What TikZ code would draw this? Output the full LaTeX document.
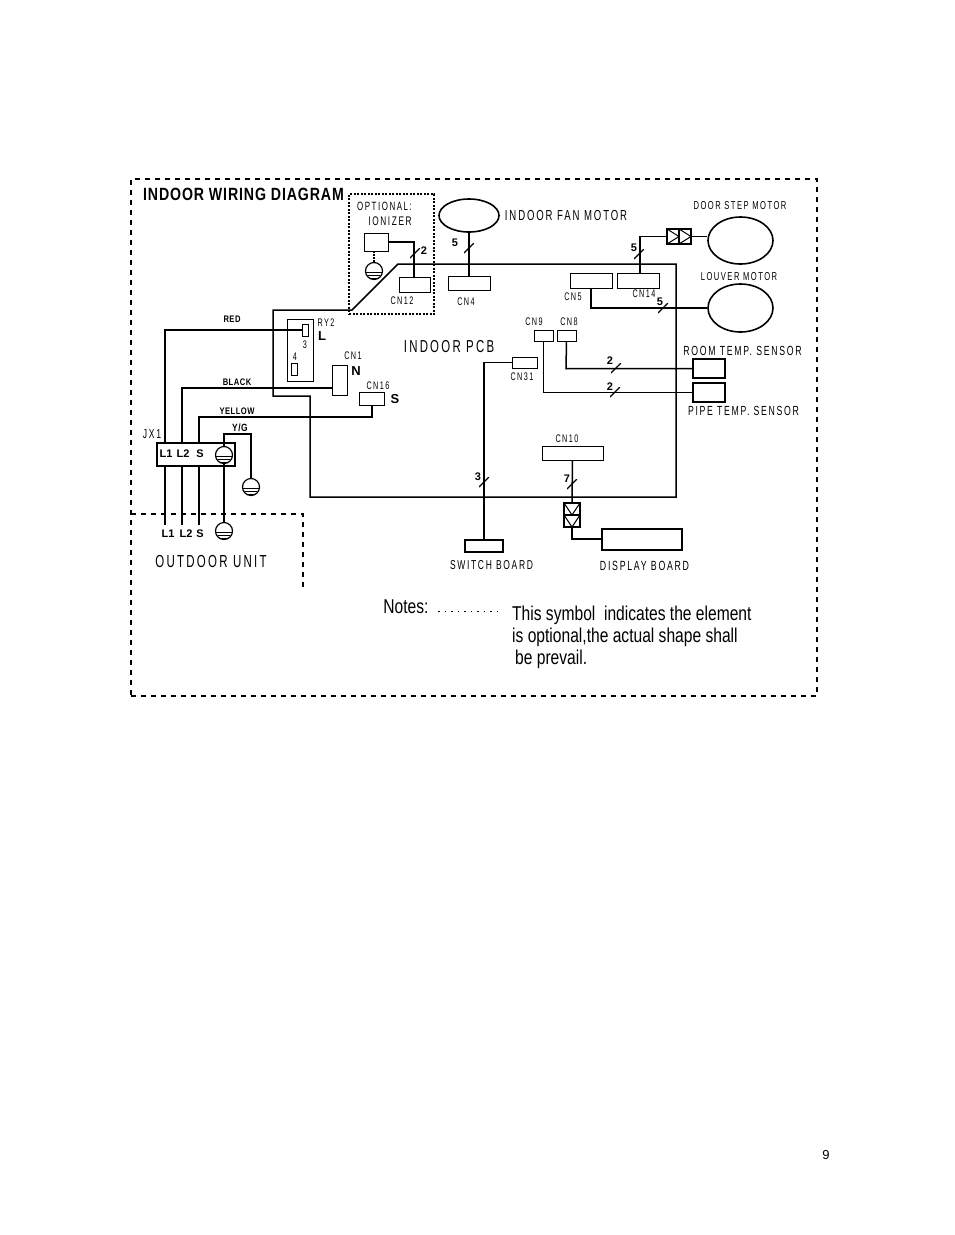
\documentclass[tikz,border=0pt]{standalone}
\usepackage{fontspec}
\usepackage{tikz}
\usetikzlibrary{calc,shapes.geometric}
\setmainfont{Liberation Sans}
\newfontfamily\drawfont[FakeStretch=0.66,LetterSpace=13]{Liberation Sans}
\newfontfamily\notefont[FakeStretch=0.78]{Liberation Sans}
\newfontfamily\boldfont[FakeStretch=0.8,LetterSpace=5]{Liberation Sans Bold}

\begin{document}
\begin{tikzpicture}[
        x=1pt, y=-1pt,
        wire/.style={line width=1.5pt},
        thinwire/.style={line width=1.2pt},
        frameline/.style={draw, line width=2pt, dash pattern=on 5pt off 5pt},
        optline/.style={draw, line width=1.6pt, dash pattern=on 2pt off 1.5pt},
        dotline/.style={line width=1pt, dash pattern=on 1.5pt off 5pt},
        conn/.style={rectangle, draw, line width=1pt, inner sep=0pt},
        heavy/.style={rectangle, draw, line width=2.2pt, inner sep=0pt},
        motor/.style={ellipse, draw, line width=1.6pt, inner sep=0pt},
        gnd/.style={circle, draw, line width=1.2pt, minimum size=17pt, inner sep=0pt,
          path picture={
            \draw[line width=1pt] ($(path picture bounding box.center)+(-8,1)$) -- +(16,0);
            \draw[line width=1pt] ($(path picture bounding box.center)+(-6,4)$) -- +(12,0);
            \draw[line width=1pt] ($(path picture bounding box.center)+(-4,7)$) -- +(8,0);
          }},
        tick/.style={minimum size=10pt, inner sep=0pt,
          path picture={
            \draw[line width=1.2pt] (path picture bounding box.south west) -- (path picture bounding box.north east);
          }},
        triright/.style={conn, line width=1.5pt, minimum width=12pt, minimum height=15pt,
          path picture={
            \draw[line width=1pt] (path picture bounding box.north west) -- (path picture bounding box.east)
              -- (path picture bounding box.south west);
          }},
        tridown/.style={conn, line width=1.5pt, minimum width=16pt, minimum height=12pt,
          path picture={
            \draw[line width=1pt] (path picture bounding box.north west) -- (path picture bounding box.south)
              -- (path picture bounding box.north east);
          }},
        lab/.style={inner sep=0pt, font=\drawfont\fontsize{14.5}{16}\selectfont},
        cnlab/.style={inner sep=0pt, font=\drawfont\fontsize{11}{12}\selectfont},
        small/.style={inner sep=0pt, font=\fontsize{11}{12}\selectfont\bfseries},
        wirelab/.style={inner sep=0pt, font=\boldfont\fontsize{9.5}{11}\selectfont},
        note/.style={inner sep=0pt, anchor=west, font=\notefont\fontsize{20}{22}\selectfont}
      ]
      \useasboundingbox (0,0) rectangle (954,1235);

      % frames
      \node[frameline, minimum width=686pt, minimum height=517pt, inner sep=0pt] (frame) at (474,437.5) {};
      \node[optline, minimum width=85pt, minimum height=120pt, inner sep=0pt] (optbox) at (391.5,254) {};
      \coordinate (outa) at (131,514);
      \coordinate (outb) at (303,514);
      \coordinate (outc) at (303,588);
      \draw[line width=2pt, dash pattern=on 5pt off 5pt] (outa) -- (outb) -- (outc);

      % connectors
      \node[conn, minimum width=24pt, minimum height=18pt] (ionizer) at (376,242) {};
      \node[conn, minimum width=31pt, minimum height=15pt] (cntwelve) at (414.5,284.5) {};
      \node[conn, minimum width=42pt, minimum height=14pt] (cnfour) at (469,283) {};
      \node[conn, minimum width=42pt, minimum height=15pt] (cnfive) at (591,280.5) {};
      \node[conn, minimum width=42pt, minimum height=15pt] (cnfourteen) at (638,280.5) {};
      \node[conn, minimum width=19pt, minimum height=11pt] (cnnine) at (543.5,335.5) {};
      \node[conn, minimum width=19pt, minimum height=11pt] (cneight) at (566.5,335.5) {};
      \node[conn, minimum width=25pt, minimum height=11pt] (cnthirtyone) at (524.5,362.5) {};
      \node[conn, minimum width=61pt, minimum height=14pt] (cnten) at (572.5,453) {};
      \node[conn, minimum width=26pt, minimum height=62pt] (relay) at (300,350) {};
      \node[conn, minimum width=6pt, minimum height=12pt] (pinthree) at (305,330) {};
      \node[conn, minimum width=6pt, minimum height=12pt] (pinfour) at (294,369) {};
      \node[conn, minimum width=15pt, minimum height=30pt] (cnone) at (339.5,380) {};
      \node[conn, minimum width=25pt, minimum height=13pt] (cnsixteen) at (371.5,398.5) {};
      \node[heavy, minimum width=78pt, minimum height=23pt] (jx) at (196,454.5) {};

      % motors and boards
      \node[motor, minimum width=60pt, minimum height=33pt] (fanmotor) at (469,215.5) {};
      \node[motor, minimum width=65pt, minimum height=47pt] (doormotor) at (740.5,240.5) {};
      \node[motor, minimum width=65pt, minimum height=48pt] (louvermotor) at (740.5,308) {};
      \node[heavy, minimum width=32pt, minimum height=19pt] (roomsensor) at (709,368.5) {};
      \node[heavy, minimum width=32pt, minimum height=19pt] (pipesensor) at (709,392.5) {};
      \node[heavy, minimum width=38pt, minimum height=12pt] (switchboard) at (484,546) {};
      \node[heavy, minimum width=80pt, minimum height=21pt] (displayboard) at (642,539.5) {};
      \node[triright] (plugdoora) at (673,236.5) {};
      \node[triright] (plugdoorb) at (685,236.5) {};
      \node[tridown] (plugdispa) at (572,509) {};
      \node[tridown] (plugdispb) at (572,521) {};

      % earth symbols
      \node[gnd] (earthion) at (374,271) {};
      \node[gnd] (earthjx) at (224,455) {};
      \node[gnd] (earthyg) at (251,487) {};
      \node[gnd] (earthout) at (224,531) {};

      % pcb outline
      \coordinate (pcba) at (273,310);
      \coordinate (pcbb) at (352,310);
      \coordinate (pcbc) at (398,264);
      \coordinate (pcbd) at (676,264);
      \coordinate (pcbe) at (676,497);
      \coordinate (pcbf) at (310,497);
      \coordinate (pcbg) at (310,396);
      \coordinate (pcbh) at (273,396);
      \draw[wire] (pcba) -- (pcbb) -- (pcbc) -- (pcbd) -- (pcbe) -- (pcbf) -- (pcbg) -- (pcbh) -- cycle;

      % wires
      \coordinate (endlone) at (165,525);
      \coordinate (endltwo) at (182,525);
      \coordinate (ends) at (199,525);
      \draw[wire] (pinthree.west) -- (165,330) -- (165,443.5);
      \draw[wire] (cnone.west |- 0,388) -- (182,388) -- (182,443.5);
      \draw[wire] (cnsixteen.south -| 372,0) -- (372,417) -- (199,417) -- (199,443.5);
      \draw[wire] (165,465.5) -- (endlone);
      \draw[wire] (182,465.5) -- (endltwo);
      \draw[wire] (199,465.5) -- (ends);
      \draw[thinwire] (earthjx.north) -- (224,434) -- (251,434) -- (earthyg.north);
      \draw[wire] (earthjx.south) -- (earthout.north);
      \draw[thinwire, dash pattern=on 1.5pt off 1.5pt] (earthion.north -| 374,0) -- (ionizer.south -| 374,0);
      \draw[thinwire] (ionizer.east) -- (414,242) -- (cntwelve.north -| 414,0);
      \draw[wire] (fanmotor.south) -- (cnfour.north);
      \draw[wire] (doormotor.west |- plugdoorb.east) -- (plugdoorb.east);
      \draw[wire] (plugdoora.west) -- (640,236.5) -- (cnfourteen.north -| 640,0);
      \draw[wire] (cnfive.south) -- (591,308) -- (louvermotor.west);
      \draw[wire] (cneight.south) -- (566,368.5) -- (roomsensor.west);
      \draw[wire] (cnnine.south) -- (543.5,392.5) -- (pipesensor.west);
      \draw[wire] (cnthirtyone.west) -- (484,362.5) -- (switchboard.north);
      \draw[wire] (cnten.south) -- (plugdispa.north);
      \draw[wire] (plugdispb.south) -- (572,539) -- (displayboard.west |- 0,539);

      % ticks
      \node[tick] (tickion) at (415,253) {};
      \node[tick] (tickfan) at (469,248) {};
      \node[tick] (tickdoor) at (639,254) {};
      \node[tick] (ticklouver) at (663,308) {};
      \node[tick] (tickroom) at (616,368) {};
      \node[tick] (tickpipe) at (615,392) {};
      \node[tick] (tickswitch) at (484,482) {};
      \node[tick] (tickdisp) at (572,484) {};
      \node[small] (numion) at (424,251) {2};
      \node[small] (numfan) at (455,243) {5};
      \node[small] (numdoor) at (634,248) {5};
      \node[small] (numlouver) at (660,302) {5};
      \node[small] (numroom) at (610,361) {2};
      \node[small] (numpipe) at (610,387) {2};
      \node[small] (numswitch) at (478,477) {3};
      \node[small] (numdisp) at (567,479) {7};

      % texts
      \node[inner sep=0pt, font=\boldfont\fontsize{17.7}{20}\selectfont] (title) at (243.5,194) {INDOOR WIRING DIAGRAM};
      \node[lab, font=\drawfont\fontsize{12}{13}\selectfont] (optlab) at (384.5,206) {OPTIONAL:};
      \node[lab, font=\drawfont\fontsize{12.5}{13}\selectfont] (ionlab) at (390,221) {IONIZER};
      \node[cnlab] (lcntwelve) at (402,301) {CN12};
      \node[cnlab] (lryt) at (326,323) {RY2};
      \node[small, font=\fontsize{13}{14}\selectfont\bfseries] (lbl) at (322,336) {L};
      \node[cnlab] (lthree) at (305,345) {3};
      \node[cnlab] (lfour) at (295,357) {4};
      \node[cnlab] (lcnone) at (353,356) {CN1};
      \node[small, font=\fontsize{13}{14}\selectfont\bfseries] (lbn) at (356,371) {N};
      \node[cnlab] (lcnsixteen) at (378,386) {CN16};
      \node[small, font=\fontsize{13}{14}\selectfont\bfseries] (lbs) at (395,399) {S};
      \node[wirelab] (lred) at (232,319) {RED};
      \node[wirelab] (lblack) at (237,382) {BLACK};
      \node[wirelab] (lyellow) at (237,411) {YELLOW};
      \node[wirelab, font=\boldfont\fontsize{10.5}{11}\selectfont] (lyg) at (240,428) {Y/G};
      \node[lab, font=\drawfont\fontsize{13}{14}\selectfont] (ljx) at (152,434) {JX1};
      \node[small] (jxa) at (166,454) {L1};
      \node[small] (jxb) at (183,454) {L2};
      \node[small] (jxc) at (200,454) {S};
      \node[small] (outla) at (168,534) {L1};
      \node[small] (outlb) at (186,534) {L2};
      \node[small] (outlc) at (200,534) {S};
      \node[lab, font=\drawfont\fontsize{17.4}{19}\selectfont] (loutdoor) at (211,562) {OUTDOOR UNIT};
      \node[lab, font=\drawfont\fontsize{17.3}{19}\selectfont] (lpcb) at (449,347) {INDOOR PCB};
      \node[lab] (lfan) at (566,216) {INDOOR FAN MOTOR};
      \node[cnlab, font=\drawfont\fontsize{11.5}{13}\selectfont] (ldoor) at (740,206) {DOOR STEP MOTOR};
      \node[lab, font=\drawfont\fontsize{11.5}{13}\selectfont] (llouver) at (739,277) {LOUVER MOTOR};
      \node[cnlab] (lcnfour) at (466,302) {CN4};
      \node[cnlab] (lcnfive) at (573,297) {CN5};
      \node[cnlab] (lcnfourteen) at (644,294) {CN14};
      \node[cnlab] (lcnnine) at (534,322) {CN9};
      \node[cnlab] (lcneight) at (569,322) {CN8};
      \node[cnlab] (lcnthirtyone) at (522,377) {CN31};
      \node[cnlab] (lcnten) at (567,439) {CN10};
      \node[lab, font=\drawfont\fontsize{13.2}{15}\selectfont] (lroom) at (742.5,351) {ROOM TEMP. SENSOR};
      \node[lab, font=\drawfont\fontsize{13.2}{15}\selectfont] (lpipe) at (743.5,411) {PIPE TEMP. SENSOR};
      \node[lab, font=\drawfont\fontsize{12.9}{15}\selectfont] (lswitch) at (491.5,565) {SWITCH BOARD};
      \node[lab, font=\drawfont\fontsize{13.3}{15}\selectfont] (ldisplay) at (644.5,566) {DISPLAY BOARD};
      \node[inner sep=0pt, font=\notefont\fontsize{20}{22}\selectfont] (lnotes) at (406,607) {Notes:};
      \coordinate (dota) at (438,611);
      \coordinate (dotb) at (503,611);
      \draw[dotline] (dota) -- (dotb);
      \node[note] (notea) at (512,615) {This symbol\ \ indicates the element};
      \node[note] (noteb) at (512,637) {is optional,the actual shape shall};
      \node[note] (notec) at (515,659) {be prevail.};
      \node[inner sep=0pt, font=\fontsize{13}{15}\selectfont] (pagenum) at (826,1155) {9};
    \end{tikzpicture}
\end{document}
